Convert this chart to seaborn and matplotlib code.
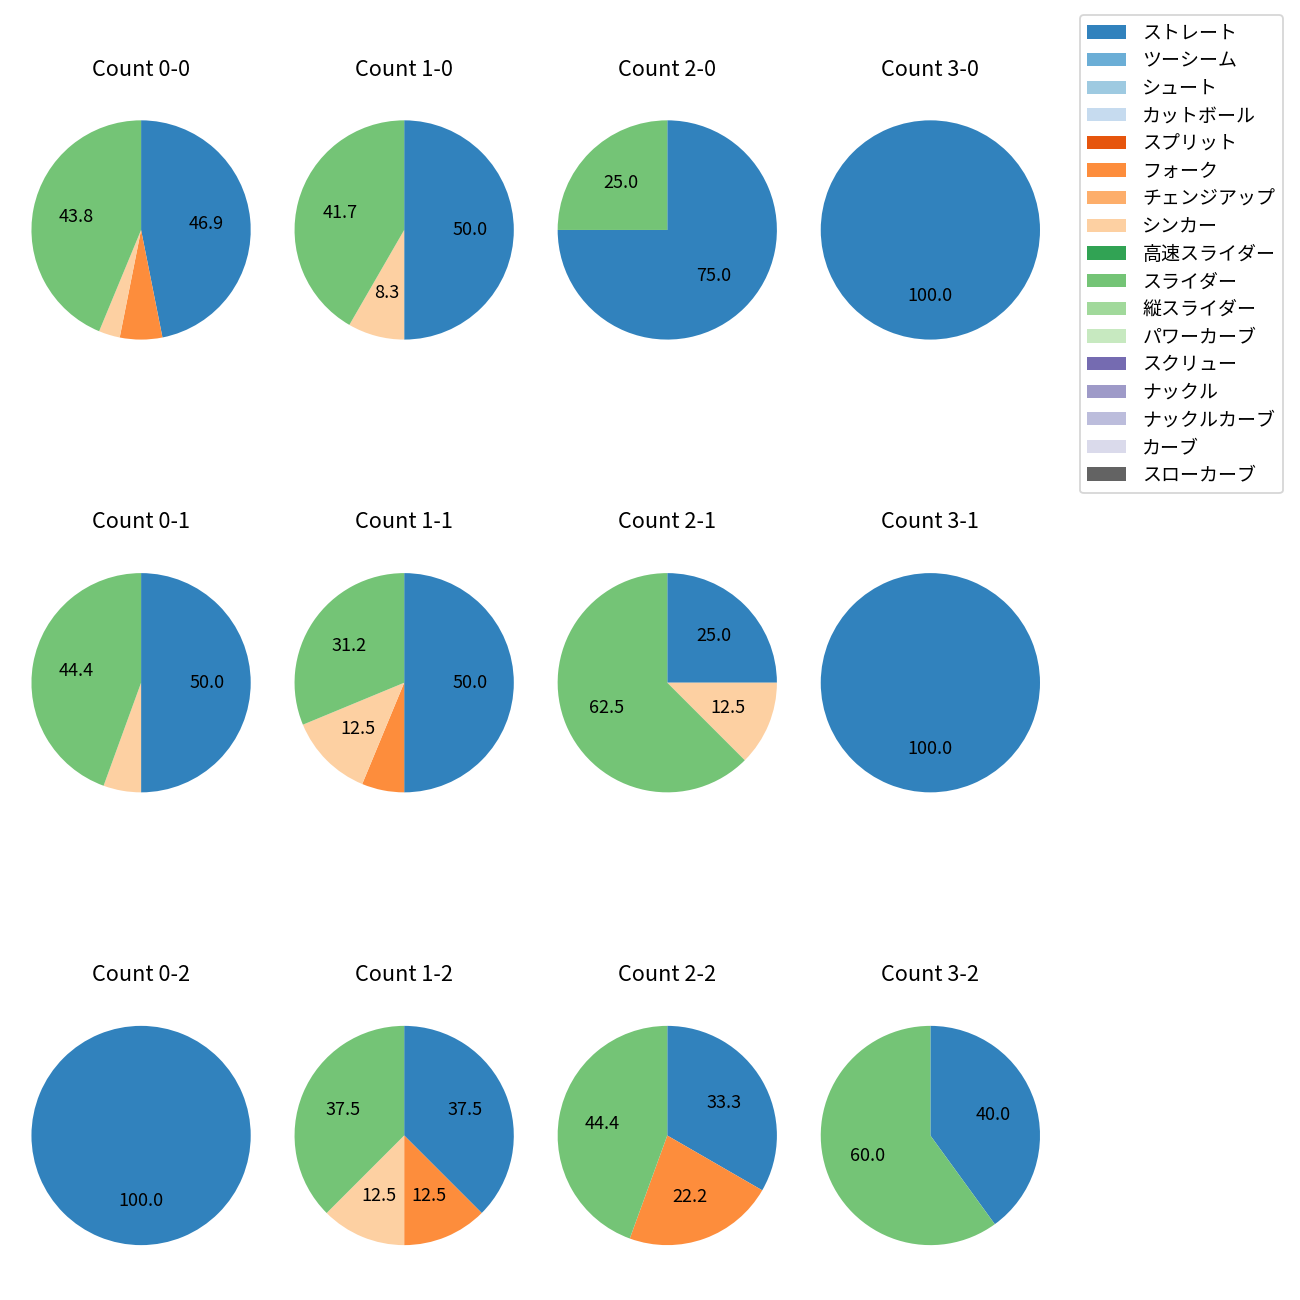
import matplotlib
matplotlib.use("Agg")
import matplotlib.pyplot as plt
from matplotlib.patches import Patch
import seaborn as sns

plt.rcParams['font.family'] = ['Noto Sans CJK JP', 'DejaVu Sans']

# ---- data ----
pitch_types = ['ストレート', 'ツーシーム', 'シュート', 'カットボール', 'スプリット', 'フォーク',
               'チェンジアップ', 'シンカー', '高速スライダー', 'スライダー', '縦スライダー',
               'パワーカーブ', 'スクリュー', 'ナックル', 'ナックルカーブ', 'カーブ', 'スローカーブ']

count_labels = ['0-0', '1-0', '2-0', '3-0',
                '0-1', '1-1', '2-1', '3-1',
                '0-2', '1-2', '2-2', '3-2']

straight = [15, 6, 3, 1, 9, 8, 2, 1, 1, 3, 3, 2]
fork     = [2, 0, 0, 0, 0, 1, 0, 0, 0, 1, 2, 0]
sinker   = [1, 1, 0, 0, 1, 2, 1, 0, 0, 1, 0, 0]
slider   = [14, 5, 1, 0, 8, 5, 5, 0, 0, 3, 4, 3]

series = {'ストレート': straight, 'フォーク': fork, 'シンカー': sinker, 'スライダー': slider}

palette = sns.color_palette('tab20c', 20)
colors = {name: palette[i] for i, name in enumerate(pitch_types)}

# ---- figure ----
fig = plt.figure(figsize=(10, 10), dpi=130)
gs = fig.add_gridspec(3, 4, left=0.0242, right=0.80, top=0.9335, bottom=0.01615,
                      wspace=0.2, hspace=0.5775)


def fmt(p):
    return f'{p:.1f}' if p >= 7 else ''


for i, cnt in enumerate(count_labels):
    ax = fig.add_subplot(gs[i // 4, i % 4])
    vals, cols = [], []
    for name, arr in series.items():
        if arr[i] > 0:
            vals.append(arr[i])
            cols.append(colors[name])
    ax.pie(vals, colors=cols, startangle=90, counterclock=False,
           autopct=fmt, pctdistance=0.6, wedgeprops=dict(clip_on=False),
           textprops=dict(fontsize=10))
    ax.set_xlim(-1.0, 1.0)
    ax.set_ylim(-1.0, 1.0)
    ax.set_aspect('equal', adjustable='datalim')
    ax.set_title(f'Count {cnt}', fontsize=12)

handles = [Patch(facecolor=colors[n], label=n) for n in pitch_types]
fig.legend(handles=handles, loc='upper right',
           bbox_to_anchor=(1283 / 1300, 1 - 15 / 1300), borderaxespad=0,
           fontsize=10.5, labelspacing=0.35, handlelength=2.05, handletextpad=0.85)

fig.savefig('out.png', dpi=130)
